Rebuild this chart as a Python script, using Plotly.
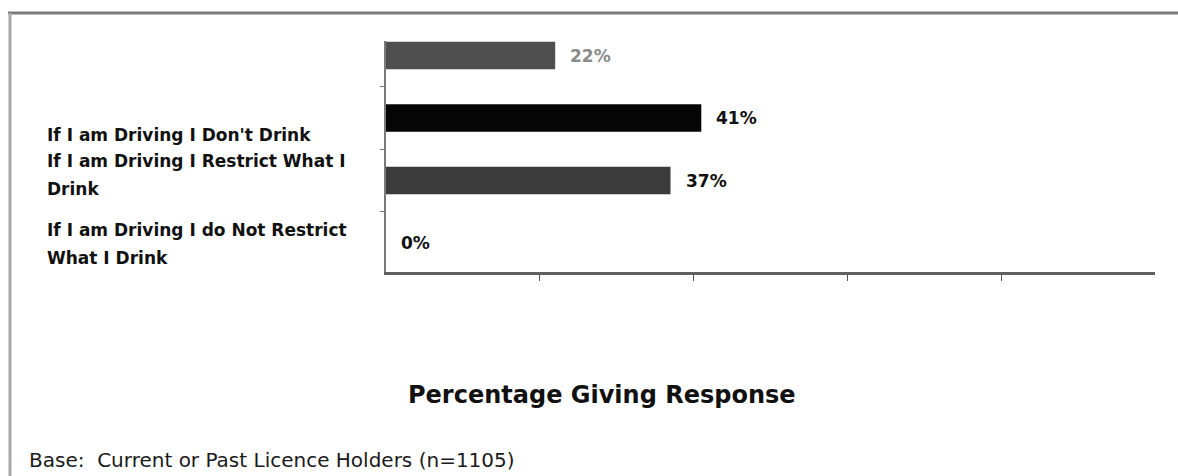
import plotly.graph_objects as go

# Survey responses (share of respondents, %)
categories = [
    " ",
    "If I am Driving I Don't Drink",
    "If I am Driving I Restrict What I<br>Drink",
    "If I am Driving I do Not Restrict<br>What I Drink",
]
values = [22, 41, 37, 0]
bar_colors = ["#4f4f4f", "#050505", "#3b3b3b", "#3b3b3b"]
label_colors = ["#8a8a8a", "#111111", "#111111", "#111111"]
x_ticks = [20, 40, 60, 80]

title_text = "Percentage Giving Response"
base_text = "Base:  Current or Past Licence Holders (n=1105)"

W, H = 1178, 476
PL, PR, PT, PB = 386, 1155, 41, 272  # plot area in pixels


def px_x(p):
    return (p - PL) / (PR - PL)


def px_y(p):
    return (PB - p) / (PB - PT)


fig = go.Figure(
    go.Bar(
        x=values,
        y=categories,
        orientation="h",
        width=0.44,
        marker=dict(color=bar_colors, line=dict(width=0)),
        hoverinfo="skip",
    )
)

# value labels next to each bar
for v, c, col in zip(values, categories, label_colors):
    fig.add_annotation(
        x=v, y=c, xref="x", yref="y", text=f"{v}%", showarrow=False,
        xanchor="left", xshift=13,
        font=dict(family="DejaVu Sans", size=17, color=col, weight="bold"),
    )

# left-aligned category labels, one annotation per line
line_shifts = [[], [-17], [19.5, -8.5], [13, -15]]
for c, shifts in zip(categories, line_shifts):
    for line, s in zip(c.split("<br>"), shifts):
        fig.add_annotation(
            x=px_x(45), y=c, xref="paper", yref="y", text=line, showarrow=False,
            xanchor="left", yshift=s,
            font=dict(family="DejaVu Sans", size=17, color="#111111", weight="bold"),
        )

fig.add_annotation(
    x=px_x(602), y=px_y(395), xref="paper", yref="paper", text=title_text,
    showarrow=False, xanchor="center", yanchor="middle",
    font=dict(family="DejaVu Sans", size=24, color="#111111", weight="bold"),
)
fig.add_annotation(
    x=px_x(27), y=px_y(474), xref="paper", yref="paper", text=base_text,
    showarrow=False, xanchor="left", yanchor="bottom",
    font=dict(family="DejaVu Sans", size=20, color="#1a1a1a"),
)

# page frame lines (top and left edges)
fig.add_shape(type="line", xref="paper", yref="paper",
              x0=px_x(8), x1=px_x(1178), y0=px_y(13), y1=px_y(13),
              line=dict(color="#7a7a7a", width=3))
fig.add_shape(type="line", xref="paper", yref="paper",
              x0=px_x(10), x1=px_x(10), y0=px_y(13), y1=px_y(476),
              line=dict(color="#a8a8a8", width=3))

fig.update_layout(
    width=W, height=H,
    margin=dict(l=PL, r=W - PR, t=PT, b=H - PB, pad=0),
    paper_bgcolor="white", plot_bgcolor="white",
    showlegend=False,
    xaxis=dict(
        range=[0, 100], tickvals=x_ticks, showticklabels=False,
        ticks="outside", ticklen=6, tickwidth=1, tickcolor="#555555",
        showgrid=False, zeroline=False,
        showline=True, linecolor="#606060", linewidth=3,
    ),
    yaxis=dict(
        type="category", range=[3.464, -0.232], showticklabels=False,
        ticks="outside", tickson="boundaries", ticklen=4, tickcolor="#777777",
        showgrid=False, zeroline=False,
        showline=True, linecolor="#7a7a7a", linewidth=2,
    ),
)

fig.write_html("out.html")
